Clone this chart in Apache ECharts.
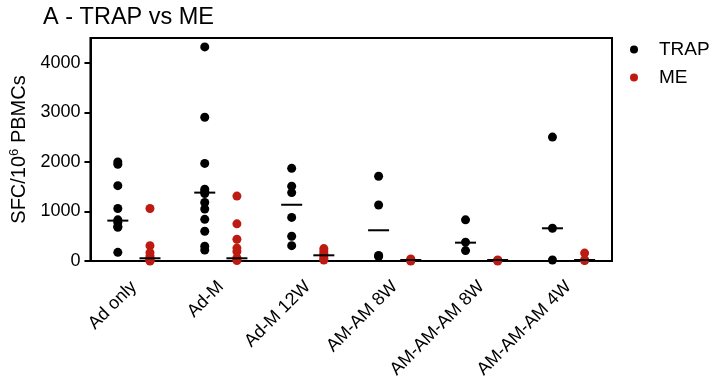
<!DOCTYPE html>
<html>
<head>
<meta charset="utf-8">
<script src="https://cdn.jsdelivr.net/npm/echarts@6/dist/echarts.min.js"></script>
<style>
html, body { margin: 0; padding: 0; background: #fff; }
#chartDiv { width: 712px; height: 390px; }
</style>
</head>
<body>
<div id="chartDiv"></div>
<script>
const categories = ['Ad only', 'Ad-M', 'Ad-M 12W', 'AM-AM 8W', 'AM-AM-AM 8W', 'AM-AM-AM 4W'];
const trapValues = [
	[2000, 1950, 1520, 1060, 830, 780, 700, 680, 175],
	[4320, 2900, 1970, 1450, 1400, 1360, 1180, 1050, 840, 600, 300, 220],
	[1870, 1510, 1380, 880, 500, 310],
	[1710, 1130, 110, 90],
	[830, 380, 210],
	[2500, 660, 20]
];
const meValues = [
	[1060, 310, 170, 100, 50, 30, 10, 0],
	[1310, 750, 440, 260, 190, 60, 30, 10],
	[250, 200, 150, 100, 50, 20],
	[40, 20, 10, 0],
	[20, 10, 0],
	[160, 20, 10]
];
const trapMedians = [815, 1380, 1135, 620, 370, 660];
const meMedians = [55, 55, 115, 20, 20, 20];
const yTicks = [0, 1000, 2000, 3000, 4000];

const shift = 0.185;
const red = '#bd1a12';
const font = 'Liberation Sans';

chartInit = () => {
	let chart = echarts.init(document.getElementById('chartDiv'));

	let points = (values, off) => {
		let out = [];
		values.forEach((list, i) => list.forEach(v => out.push([i + off, v])));
		return out;
	};
	let medians = (values, off) => values.map((v, i) => [i + off, v]);

	let option = {
		animation: false,
		title: {
			text: 'A - TRAP vs ME',
			left: 38,
			top: 1,
			textStyle: { fontFamily: font, fontSize: 23.5, fontWeight: 'normal', color: '#000' }
		},
		legend: {
			orient: 'vertical',
			left: 625,
			top: 35,
			itemWidth: 8,
			itemHeight: 8,
			itemGap: 9,
			icon: 'circle',
			data: ['TRAP', 'ME'],
			textStyle: { fontFamily: font, fontSize: 19, color: '#000', padding: [0, 0, 0, 16] }
		},
		grid: {
			left: 90,
			right: 100,
			top: 38,
			bottom: 129,
			show: true,
			borderColor: '#000',
			borderWidth: 2
		},
		xAxis: [{
			type: 'category',
			data: categories,
			boundaryGap: true,
			axisLine: { lineStyle: { color: '#000', width: 2 } },
			axisTick: { alignWithLabel: true, length: 6, lineStyle: { color: '#000', width: 2 } },
			axisLabel: { rotate: 45, fontFamily: font, fontSize: 18, color: '#000', margin: 23 },
			splitLine: { show: false }
		}, {
			type: 'value',
			min: -0.5,
			max: 5.5,
			show: false
		}],
		yAxis: {
			type: 'value',
			min: 0,
			max: 4500,
			name: 'SFC/10{sup|6} PBMCs',
			nameLocation: 'middle',
			nameRotate: 90,
			nameGap: 55,
			nameTextStyle: {
				fontFamily: font, fontSize: 20, color: '#000',
				rich: { sup: { fontFamily: font, fontSize: 13, color: '#000', verticalAlign: 'bottom', padding: [0, 0, 10, 0] } }
			},
			axisLine: { show: true, onZero: false, lineStyle: { color: '#000', width: 2 } },
			axisTick: { show: true, length: 6, customValues: yTicks, lineStyle: { color: '#000', width: 2 } },
			axisLabel: {
				customValues: yTicks,
				fontFamily: font, fontSize: 18, color: '#000', margin: 10,
				formatter: v => String(v)
			},
			splitLine: { show: false }
		},
		series: [{
			name: 'TRAP',
			type: 'scatter',
			xAxisIndex: 1,
			symbolSize: 9,
			itemStyle: { color: '#000', opacity: 1 },
			data: points(trapValues, -shift)
		}, {
			name: 'ME',
			type: 'scatter',
			xAxisIndex: 1,
			symbolSize: 9,
			itemStyle: { color: red, opacity: 1 },
			data: points(meValues, shift)
		}, {
			name: 'TRAP median',
			type: 'scatter',
			xAxisIndex: 1,
			symbol: 'rect',
			symbolSize: [21, 2],
			itemStyle: { color: '#000', opacity: 1 },
			z: 5,
			data: medians(trapMedians, -shift)
		}, {
			name: 'ME median',
			type: 'scatter',
			xAxisIndex: 1,
			symbol: 'rect',
			symbolSize: [21, 2],
			itemStyle: { color: '#000', opacity: 1 },
			z: 5,
			data: medians(meMedians, shift)
		}]
	};
	chart.setOption(option);
};
chartInit();
</script>
</body>
</html>
